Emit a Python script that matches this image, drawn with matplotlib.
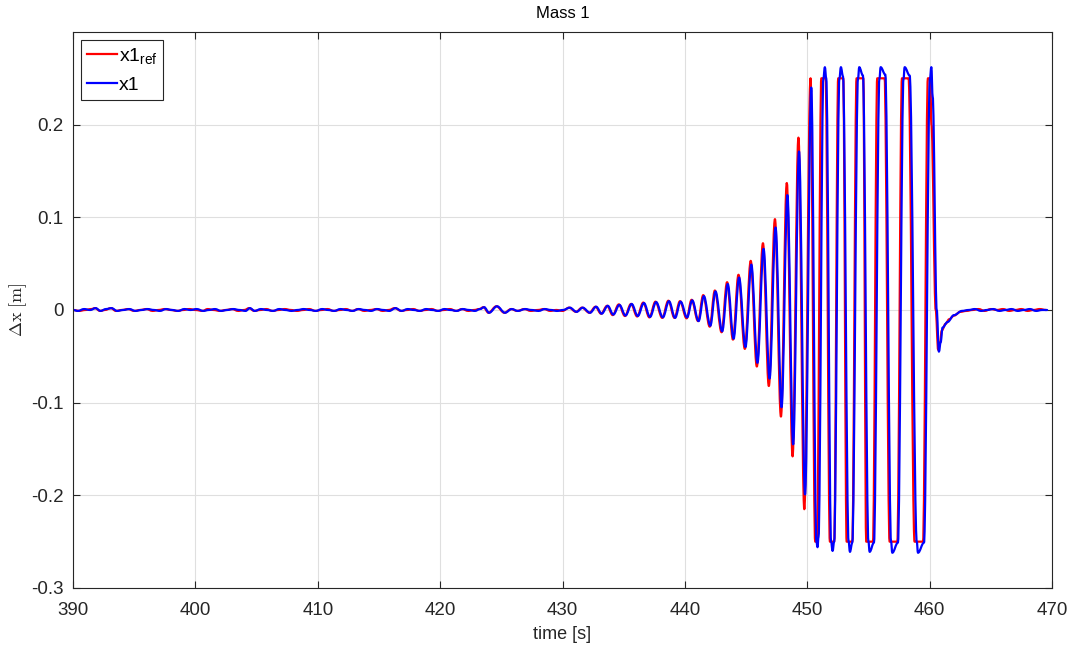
import matplotlib
matplotlib.use("Agg")
import matplotlib.pyplot as plt
from matplotlib.path import Path
from matplotlib.patches import PathPatch
from matplotlib.lines import Line2D

plt.rcParams['font.family'] = ['Liberation Sans', 'DejaVu Sans']
plt.rcParams['mathtext.fontset'] = 'custom'
plt.rcParams['mathtext.rm'] = 'Liberation Sans'
plt.rcParams['mathtext.it'] = 'Liberation Sans:italic'
plt.rcParams['axes.unicode_minus'] = False

# ---------------- data ----------------
# reference trajectory x1_ref: time [s]
t_ref = [390.0, 390.5, 391.0, 391.5, 391.8, 392.2, 392.6, 393.1, 393.5, 394.0,
         394.5, 395.0, 395.5, 396.0, 396.5, 397.0, 397.5, 398.0, 398.5, 399.0,
         399.5, 400.0, 400.6, 401.0, 401.5, 402.0, 402.5, 403.0, 403.5, 404.0,
         404.4, 404.8, 405.3, 405.8, 406.3, 406.8, 407.3, 407.8, 408.3, 408.8,
         409.3, 409.8, 410.3, 410.8, 411.3, 411.8, 412.3, 412.8, 413.3, 413.8,
         414.3, 414.8, 415.3, 415.8, 416.3, 416.8, 417.3, 417.8, 418.3, 418.8,
         419.3, 419.8, 420.3, 420.8, 421.3, 421.8, 422.3, 422.8, 423.2, 423.55,
         423.95, 424.6, 425.25, 425.8, 426.3, 426.9, 427.4, 428.0, 428.5, 429.0,
         429.5, 430.0,
         430.54, 431.1, 431.6, 432.2, 432.7, 433.15, 433.65, 434.1, 434.6, 435.1,
         435.6, 436.1, 436.6, 437.1, 437.6, 438.15, 438.65, 439.15, 439.6, 440.14,
         440.55, 441.08, 441.5, 442.03, 442.45, 443.0, 443.45, 443.93, 444.38, 444.9,
         445.38, 445.88, 446.38, 446.86, 447.36, 447.85, 448.33, 448.8, 449.28, 449.76,
         450.27, 450.65, 450.80, 451.15, 451.50, 451.85, 452.20, 452.53, 452.94, 453.22,
         453.68, 454.03, 454.58, 454.82, 455.37, 455.72, 456.32, 456.73, 457.36, 457.74,
         458.28, 458.77, 459.46, 459.86, 460.05, 460.15, 460.50, 460.70, 460.85, 461.0,
         461.3, 461.6, 462.0, 462.5, 463.0, 463.5, 464.0, 464.5, 465.0, 465.5,
         466.0, 466.5, 467.0, 467.5, 468.0, 468.5, 469.0, 469.5]
# reference displacement [m]
x1_ref = [0.000, -0.001, 0.000, 0.001, 0.002, -0.001, 0.000, 0.002, -0.001, 0.000,
          0.001, -0.001, 0.000, 0.001, -0.001, 0.000, 0.001, 0.000, -0.001, 0.000,
          0.001, 0.000, -0.001, 0.001, 0.000, -0.001, 0.000, 0.001, -0.001, 0.000,
          0.002, -0.001, 0.000, 0.001, -0.001, 0.000, 0.001, 0.000, -0.001, 0.000,
          0.001, -0.001, 0.000, 0.001, -0.001, 0.000, 0.001, -0.001, 0.001, -0.001,
          0.000, 0.001, -0.001, 0.000, 0.002, -0.001, 0.000, 0.001, -0.001, 0.000,
          0.001, -0.001, 0.000, 0.001, -0.001, 0.001, -0.001, 0.000, 0.001, 0.003,
          -0.003, 0.004, -0.003, 0.001, -0.001, 0.001, -0.001, 0.000, 0.001, -0.001,
          0.000, -0.001,
          0.0025, -0.002, 0.0025, -0.003, 0.0035, -0.004, 0.0045, -0.0055, 0.006, -0.0065,
          0.0065, -0.007, 0.008, -0.008, 0.009, -0.0085, 0.010, -0.0085, 0.0095, -0.009,
          0.011, -0.012, 0.016, -0.018, 0.021, -0.024, 0.030, -0.032, 0.038, -0.042,
          0.053, -0.061, 0.072, -0.082, 0.098, -0.115, 0.137, -0.158, 0.186, -0.215,
          0.250, -0.250, -0.250, 0.250, 0.250, -0.250, -0.250, 0.250, 0.250, -0.250,
          -0.250, 0.250, 0.250, -0.250, -0.250, 0.250, 0.250, -0.250, -0.250, 0.250,
          0.250, -0.250, -0.250, 0.250, 0.250, 0.200, 0.000, -0.043, -0.035, -0.022,
          -0.015, -0.010, -0.006, -0.002, -0.001, 0.000, 0.001, -0.001, 0.001, 0.000,
          0.001, -0.001, 0.000, 0.001, -0.001, 0.000, 0.001, 0.000]

# measured trajectory x1: time [s]
t_x1 = [390.0, 390.4, 390.9, 391.4, 391.85, 392.25, 392.7, 393.15, 393.6, 394.1,
        394.6, 395.1, 395.6, 396.1, 396.6, 397.1, 397.6, 398.1, 398.6, 399.1,
        399.6, 400.1, 400.65, 401.1, 401.6, 402.1, 402.6, 403.1, 403.6, 404.1,
        404.45, 404.85, 405.35, 405.85, 406.35, 406.85, 407.35, 407.85, 408.35, 408.85,
        409.35, 409.85, 410.35, 410.85, 411.35, 411.85, 412.35, 412.85, 413.35, 413.85,
        414.35, 414.85, 415.35, 415.85, 416.35, 416.85, 417.35, 417.85, 418.35, 418.85,
        419.35, 419.85, 420.35, 420.85, 421.35, 421.85, 422.35, 422.85, 423.25, 423.6,
        424.0, 424.65, 425.3, 425.85, 426.35, 426.95, 427.45, 428.05, 428.55, 429.05,
        429.55, 430.05,
        430.6, 431.15, 431.65, 432.25, 432.75, 433.2, 433.7, 434.15, 434.65, 435.15,
        435.65, 436.15, 436.65, 437.15, 437.65, 438.2, 438.7, 439.2, 439.65, 440.18,
        440.6, 441.12, 441.55, 442.08, 442.5, 443.05, 443.5, 443.98, 444.43, 444.95,
        445.43, 445.93, 446.43, 446.92, 447.41, 447.9, 448.38, 448.85, 449.33, 449.82,
        450.33, 450.75, 450.84, 450.92, 451.32, 451.44, 451.55, 451.95, 452.07, 452.20,
        452.63, 452.75, 452.92, 453.38, 453.49, 453.68, 454.15, 454.25, 454.55, 455.00,
        455.10, 455.45, 455.90, 456.00, 456.38, 456.85, 456.95, 457.41, 457.87, 457.96,
        458.37, 458.95, 459.05, 459.54, 460.03, 460.14, 460.25, 460.58, 460.76, 460.90,
        461.06, 461.46, 461.99, 462.65, 463.2, 463.7, 464.2, 464.7, 465.2, 465.7,
        466.2, 466.7, 467.2, 467.7, 468.2, 468.7, 469.2, 469.6]
# measured displacement [m]
x1 = [0.000, -0.001, 0.001, 0.000, 0.002, -0.001, 0.001, 0.002, -0.001, 0.000,
      0.001, -0.001, 0.000, 0.001, 0.000, -0.001, 0.001, 0.000, -0.001, 0.001,
      0.000, 0.001, -0.001, 0.000, 0.001, -0.001, 0.000, 0.001, 0.000, -0.001,
      0.002, -0.001, 0.001, 0.000, -0.001, 0.001, 0.000, -0.001, 0.000, 0.001,
      0.000, -0.001, 0.001, 0.000, -0.001, 0.001, 0.000, -0.001, 0.001, 0.000,
      -0.001, 0.001, 0.000, -0.001, 0.002, -0.001, 0.001, 0.000, -0.001, 0.001,
      0.000, -0.001, 0.001, 0.000, -0.001, 0.001, 0.000, -0.001, 0.001, 0.003,
      -0.003, 0.004, -0.003, 0.001, -0.001, 0.001, 0.000, -0.001, 0.001, 0.000,
      -0.001, 0.000,
      0.0025, -0.002, 0.0025, -0.003, 0.0035, -0.004, 0.0045, -0.005, 0.0055, -0.006,
      0.0065, -0.0065, 0.0075, -0.0075, 0.0085, -0.008, 0.0095, -0.0085, 0.009, -0.008,
      0.0104, -0.012, 0.015, -0.017, 0.020, -0.023, 0.028, -0.031, 0.035, -0.040,
      0.049, -0.057, 0.066, -0.074, 0.089, -0.105, 0.124, -0.145, 0.171, -0.199,
      0.240, -0.250, -0.256, -0.245, 0.250, 0.262, 0.250, -0.250, -0.260, -0.250,
      0.250, 0.262, 0.252, -0.250, -0.261, -0.251, 0.250, 0.262, 0.253, -0.250,
      -0.261, -0.251, 0.250, 0.262, 0.254, -0.250, -0.262, -0.251, 0.250, 0.262,
      0.253, -0.250, -0.262, -0.251, 0.250, 0.262, 0.230, 0.000, -0.045, -0.035,
      -0.019, -0.013, -0.0056, -0.001, 0.000, 0.001, -0.001, 0.000, 0.001, -0.001,
      0.000, 0.001, -0.001, 0.000, 0.001, -0.001, 0.000, 0.000]

x_ticks = [390, 400, 410, 420, 430, 440, 450, 460, 470]
y_ticks = [-0.3, -0.2, -0.1, 0.0, 0.1, 0.2]
y_tick_labels = ['-0.3', '-0.2', '-0.1', '0', '0.1', '0.2']


def smooth_path(ts, ys, k=0.36):
    """Smooth rendering of a polyline through the read vertices
    (cubic Bezier segments with horizontal tangents at each vertex)."""
    verts = [(ts[0], ys[0])]
    codes = [Path.MOVETO]
    for i in range(1, len(ts)):
        t0, y0, t1, y1 = ts[i - 1], ys[i - 1], ts[i], ys[i]
        d = (t1 - t0) * k
        verts += [(t0 + d, y0), (t1 - d, y1), (t1, y1)]
        codes += [Path.CURVE4] * 3
    return Path(verts, codes)


# ---------------- figure ----------------
fig = plt.figure(figsize=(10.74, 6.46), dpi=100)
ax = fig.add_axes([0.068, 0.0898, 0.9115, 0.8607])

red = (1, 0, 0)
blue = (0, 0, 1)
ax.add_patch(PathPatch(smooth_path(t_ref, x1_ref), facecolor='none',
                       edgecolor=red, lw=1.6, capstyle='round', joinstyle='round'))
ax.add_patch(PathPatch(smooth_path(t_x1, x1), facecolor='none',
                       edgecolor=blue, lw=1.6, capstyle='round', joinstyle='round'))

ax.set_xlim(390, 470)
ax.set_ylim(-0.3, 0.3)
ax.set_xticks(x_ticks)
ax.set_yticks(y_ticks)
ax.set_yticklabels(y_tick_labels)

tick_color = '#262626'
ax.tick_params(direction='in', length=5, width=0.8, labelsize=13.5,
               colors=tick_color, top=True, right=True)
ax.tick_params(axis='x', pad=10)
ax.tick_params(axis='y', pad=7)
for s in ax.spines.values():
    s.set_color(tick_color)
    s.set_linewidth(0.8)

ax.grid(True, color='#dfdfdf', linewidth=0.8)
ax.set_axisbelow(True)

ax.set_title('Mass 1', fontsize=12, color='black', pad=10)
ax.set_xlabel('time [s]', fontsize=13, color=tick_color, labelpad=5)
ax.set_ylabel(r'$\Delta\mathrm{x}\ [\mathrm{m}]$', fontsize=13, color=tick_color,
              math_fontfamily='cm', labelpad=1)

handles = [Line2D([], [], color=red, lw=1.6), Line2D([], [], color=blue, lw=1.6)]
labels = ['x1$_{\\mathrm{ref}}$', 'x1']
leg = ax.legend(handles, labels, loc='upper left', fontsize=14, frameon=True,
                fancybox=False, edgecolor='#262626', framealpha=1,
                handlelength=1.55, handletextpad=0.1, borderpad=0.3,
                labelspacing=0.55, borderaxespad=0.4)
leg.get_frame().set_linewidth(0.8)

fig.savefig('out.png', dpi=100)
